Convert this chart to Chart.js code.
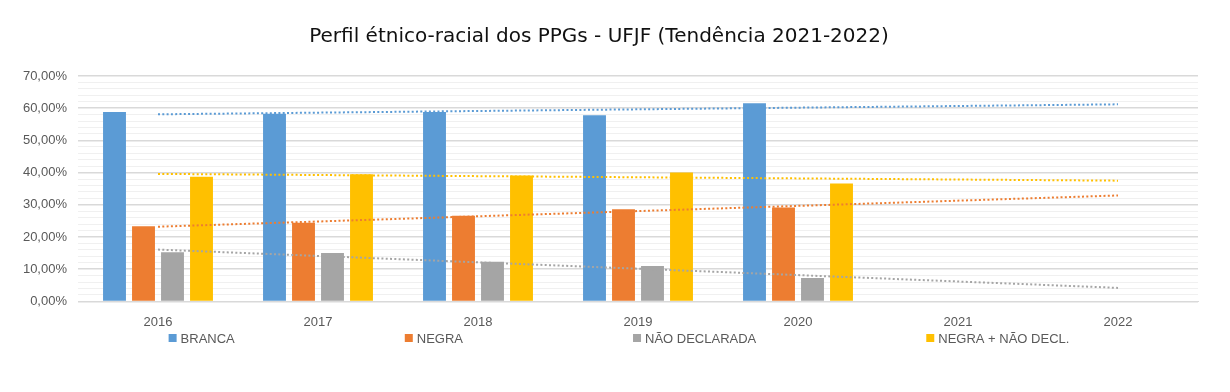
<!DOCTYPE html>
<html>
<head>
<meta charset="utf-8">
<script src="https://cdn.jsdelivr.net/npm/chart.js@4/dist/chart.umd.min.js"></script>
<style>
  html, body { margin: 0; padding: 0; background: #fff; }
  #wrap { width: 1230px; height: 392px; }
</style>
</head>
<body>
<div id="wrap"><canvas id="chart" width="1230" height="392"></canvas></div>
<script>
// Years on the x axis (2021 and 2022 only carry the trend lines)
const years = ['2016', '2017', '2018', '2019', '2020', '2021', '2022'];

// Bar values, in percent
const branca = [58.8, 58.3, 58.8, 57.8, 61.5, null, null];
const negra = [23.3, 24.4, 26.6, 28.6, 29.2, null, null];
const naoDeclarada = [15.3, 15.0, 12.3, 11.0, 7.3, null, null];
const negraNaoDecl = [38.7, 39.5, 39.1, 40.0, 36.6, null, null];

// Trend lines (start 2016, end 2022)
const trendBranca = [58.1, null, null, null, null, null, 61.2];
const trendNegra = [23.2, null, null, null, null, null, 32.9];
const trendNaoDeclarada = [16.1, null, null, null, null, null, 4.2];
const trendNegraNaoDecl = [39.6, null, null, null, null, null, 37.5];

// Series labels and colours
const seriesLabels = ['BRANCA', 'NEGRA', 'NÃO DECLARADA', 'NEGRA + NÃO DECL.'];
const seriesColors = ['#5B9BD5', '#ED7D31', '#A5A5A5', '#FFC000'];

const textGray = '#595959';
const font = 'Liberation Sans, Arial, sans-serif';

// Helper for a bar dataset
function barSet(i, data) {
  return {
    type: 'bar',
    label: seriesLabels[i],
    data: data,
    backgroundColor: seriesColors[i],
    categoryPercentage: 0.725,
    barPercentage: 0.79,
    order: 1
  };
}

// Helper for a dotted trend line
function trendSet(i, data) {
  return {
    type: 'line',
    label: seriesLabels[i] + ' trend',
    data: data,
    borderColor: seriesColors[i],
    borderWidth: 2,
    borderDash: [2, 2.3],
    pointRadius: 0,
    spanGaps: true,
    fill: false,
    order: 0
  };
}

// Legend drawn by hand so the wide spacing matches
const spreadLegend = {
  id: 'spreadLegend',
  afterDraw(chart) {
    const ctx = chart.ctx;
    const gap = 170, box = 8, boxGap = 4;
    ctx.save();
    ctx.font = '13px ' + font;
    ctx.textBaseline = 'middle';
    const widths = seriesLabels.map(t => box + boxGap + ctx.measureText(t).width);
    const total = widths.reduce((a, b) => a + b, 0) + gap * (seriesLabels.length - 1);
    let x = 619 - total / 2;
    const y = 338;
    seriesLabels.forEach((t, i) => {
      ctx.fillStyle = seriesColors[i];
      ctx.fillRect(x, y - box / 2, box, box);
      ctx.fillStyle = textGray;
      ctx.fillText(t, x + box + boxGap, y + 1);
      x += widths[i] + gap;
    });
    ctx.restore();
  }
};

new Chart(document.getElementById('chart').getContext('2d'), {
  data: {
    labels: years,
    datasets: [
      barSet(0, branca),
      barSet(1, negra),
      barSet(2, naoDeclarada),
      barSet(3, negraNaoDecl),
      trendSet(0, trendBranca),
      trendSet(1, trendNegra),
      trendSet(2, trendNaoDeclarada),
      trendSet(3, trendNegraNaoDecl)
    ]
  },
  options: {
    responsive: false,
    animation: false,
    layout: { padding: { left: 0, right: 32, top: 0, bottom: 49 } },
    plugins: {
      legend: { display: false },
      tooltip: { enabled: false },
      title: {
        display: true,
        text: 'Perfil étnico-racial dos PPGs - UFJF (Tendência 2021-2022)',
        color: '#111',
        font: { family: 'DejaVu Sans', size: 20, weight: 'normal' },
        padding: { top: 25, bottom: 27 }
      }
    },
    scales: {
      x: {
        grid: { display: false, drawTicks: false },
        border: { color: '#d9d9d9', width: 1 },
        ticks: { color: textGray, font: { family: font, size: 13 }, padding: 13 }
      },
      y: {
        min: 0,
        max: 70,
        afterFit: function (scale) { scale.width = 78; },
        border: { display: false },
        grid: {
          drawTicks: false,
          color: ctx => (ctx.tick.value % 10 === 0 ? '#d9d9d9' : '#f0f0f0'),
          lineWidth: ctx => (ctx.tick.value % 10 === 0 ? 1.5 : 1)
        },
        ticks: {
          stepSize: 2,
          autoSkip: false,
          padding: 11,
          color: textGray,
          font: { family: font, size: 13 },
          callback: v => (v % 10 === 0 ? v.toFixed(2).replace('.', ',') + '%' : '')
        }
      }
    }
  },
  plugins: [spreadLegend]
});
</script>
</body>
</html>
